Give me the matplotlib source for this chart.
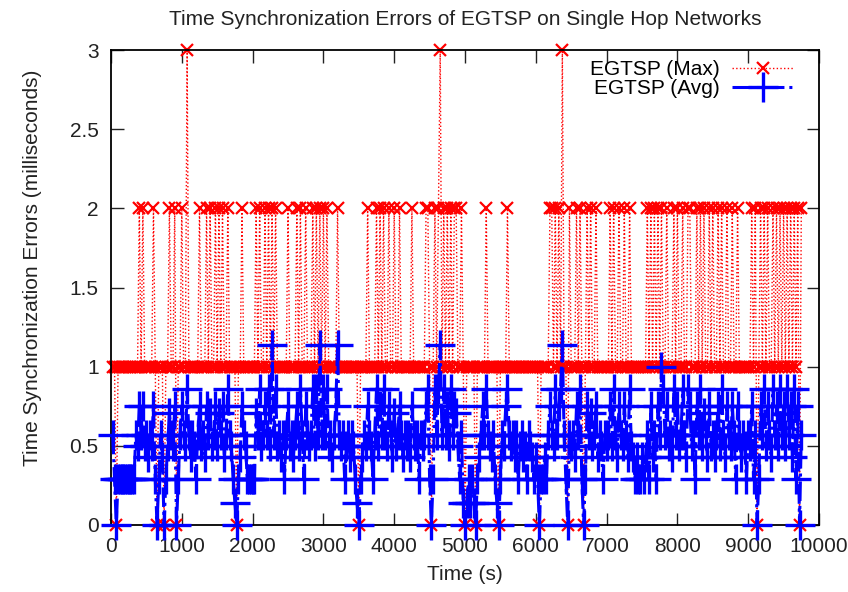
import numpy as np
import matplotlib
matplotlib.use("Agg")
import matplotlib.pyplot as plt
from matplotlib.ticker import FormatStrFormatter

plt.rcParams['font.family'] = ['Liberation Sans', 'DejaVu Sans']

# sampling grid of the run (seconds), one sample every 25 s
times = np.arange(25, 9751, 25)

# maximum error per sample (ms), one row per 1000 s
max_err = [
    1, 1, 0, 1, 1, 1, 1, 1, 1, 1, 1, 1, 1, 1, 1, 2, 1, 2, 1, 1,
    1, 1, 1, 2, 1, 0, 1, 1, 1, 0, 1, 1, 2, 1, 1, 2, 0, 1, 1, 2,
    1, 1, 3, 1, 1, 1, 1, 1, 1, 2, 1, 1, 1, 2, 1, 2, 1, 1, 2, 1,
    2, 1, 2, 1, 1, 2, 1, 1, 1, 1, 0, 1, 1, 2, 1, 1, 1, 1, 1, 1,
    1, 2, 1, 2, 1, 1, 2, 1, 2, 1, 2, 1, 2, 1, 1, 1, 1, 1, 1, 2,
    1, 1, 1, 1, 2, 1, 2, 1, 1, 2, 1, 1, 1, 2, 1, 2, 1, 2, 1, 2,
    1, 2, 1, 1, 1, 1, 1, 2, 1, 1, 1, 1, 1, 1, 1, 1, 1, 1, 1, 0,
    1, 1, 1, 1, 2, 1, 1, 1, 1, 2, 1, 2, 1, 2, 1, 1, 2, 1, 1, 2,
    1, 1, 2, 1, 1, 1, 1, 1, 1, 2, 1, 1, 1, 1, 1, 1, 1, 2, 2, 1,
    0, 1, 2, 1, 2, 3, 1, 2, 1, 2, 1, 2, 1, 2, 2, 1, 1, 2, 1, 0,
    1, 1, 1, 1, 1, 0, 1, 1, 1, 1, 1, 2, 1, 1, 1, 1, 1, 1, 0, 1,
    1, 1, 1, 2, 1, 1, 1, 1, 1, 1, 1, 1, 1, 1, 1, 1, 1, 1, 1, 1,
    1, 0, 1, 1, 1, 1, 1, 2, 2, 1, 2, 1, 2, 1, 3, 1, 1, 0, 2, 1,
    1, 1, 2, 1, 2, 1, 0, 1, 2, 1, 2, 1, 1, 2, 1, 1, 1, 1, 1, 1,
    1, 2, 1, 2, 1, 1, 2, 1, 1, 2, 1, 1, 2, 1, 1, 1, 1, 1, 1, 1,
    1, 1, 2, 1, 2, 1, 2, 1, 2, 1, 2, 1, 1, 2, 1, 1, 1, 2, 1, 2,
    1, 1, 2, 1, 1, 2, 2, 1, 1, 1, 2, 1, 2, 1, 2, 1, 1, 2, 1, 2,
    1, 1, 2, 1, 2, 1, 1, 2, 1, 1, 2, 1, 1, 2, 1, 1, 1, 1, 1, 1,
    1, 2, 1, 2, 0, 1, 2, 1, 2, 1, 2, 1, 1, 2, 1, 2, 1, 2, 1, 2,
    1, 2, 1, 2, 1, 2, 1, 2, 0, 2,
]

# average error per sample (ms), one row per 1000 s
avg_err = [
    0.57, 0.29, 0, 0.29, 0.29, 0.29, 0.29, 0.29, 0.29, 0.29,
    0.29, 0.29, 0.29, 0.57, 0.5, 0.75, 0.57, 0.75, 0.5, 0.57,
    0.43, 0.57, 0.5, 0.75, 0.29, 0, 0.29, 0.57, 0.43, 0,
    0.29, 0.5, 0.71, 0.57, 0.5, 0.75, 0, 0.29, 0.57, 0.75,

    0.57, 0.5, 0.86, 0.57, 0.43, 0.57, 0.5, 0.29, 0.57, 0.75,
    0.5, 0.57, 0.43, 0.75, 0.57, 0.71, 0.5, 0.57, 0.75, 0.5,
    0.71, 0.57, 0.75, 0.43, 0.57, 0.86, 0.57, 0.5, 0.29, 0.14,
    0, 0.29, 0.43, 0.75, 0.57, 0.5, 0.29, 0.29, 0.29, 0.29,

    0.29, 0.71, 0.57, 0.86, 0.5, 0.57, 0.75, 0.57, 0.86, 0.5,
    1.14, 0.57, 0.86, 0.5, 0.57, 0.43, 0.57, 0.29, 0.57, 0.75,
    0.5, 0.57, 0.43, 0.57, 0.75, 0.5, 0.86, 0.57, 0.29, 0.75,
    0.57, 0.5, 0.57, 0.86, 0.5, 0.86, 0.57, 1.14, 0.57, 0.86,

    0.57, 0.86, 0.5, 0.57, 0.43, 0.57, 0.75, 1.14, 0.57, 0.5,
    0.57, 0.29, 0.5, 0.57, 0.43, 0.57, 0.5, 0.29, 0.14, 0,
    0.29, 0.43, 0.57, 0.5, 0.75, 0.57, 0.5, 0.29, 0.57, 0.86,
    0.5, 0.75, 0.57, 0.86, 0.57, 0.5, 0.75, 0.57, 0.43, 0.71,

    0.5, 0.57, 0.75, 0.57, 0.43, 0.57, 0.5, 0.57, 0.43, 0.75,
    0.57, 0.5, 0.57, 0.29, 0.57, 0.5, 0.57, 0.75, 0.86, 0.29,
    0, 0.29, 0.86, 0.57, 0.86, 1.14, 0.57, 0.86, 0.57, 0.75,
    0.5, 0.86, 0.57, 0.75, 0.71, 0.5, 0.29, 0.57, 0.14, 0,

    0.14, 0.29, 0.14, 0.29, 0.14, 0, 0.29, 0.43, 0.57, 0.75,
    0.57, 0.86, 0.57, 0.5, 0.43, 0.57, 0.29, 0.14, 0, 0.29,
    0.57, 0.5, 0.75, 0.86, 0.57, 0.5, 0.57, 0.43, 0.57, 0.29,
    0.5, 0.57, 0.43, 0.5, 0.29, 0.57, 0.5, 0.43, 0.29, 0.43,

    0.29, 0, 0.29, 0.29, 0.43, 0.29, 0.57, 0.75, 0.57, 0.5,
    0.86, 0.57, 0.75, 0.86, 1.14, 0.57, 0.29, 0, 0.57, 0.5,
    0.57, 0.43, 0.75, 0.57, 0.86, 0.29, 0, 0.29, 0.75, 0.57,
    0.71, 0.5, 0.57, 0.75, 0.43, 0.57, 0.5, 0.29, 0.57, 0.5,

    0.57, 0.75, 0.5, 0.86, 0.57, 0.43, 0.75, 0.57, 0.5, 0.75,
    0.57, 0.43, 0.86, 0.5, 0.43, 0.29, 0.43, 0.29, 0.29, 0.43,
    0.29, 0.43, 0.57, 0.29, 0.75, 0.43, 0.57, 0.29, 0.75, 0.57,
    1.0, 0.86, 0.57, 0.75, 0.5, 0.57, 0.43, 0.86, 0.57, 0.75,

    0.5, 0.57, 0.86, 0.57, 0.43, 0.86, 0.75, 0.5, 0.57, 0.29,
    0.75, 0.57, 0.86, 0.5, 0.71, 0.57, 0.43, 0.75, 0.5, 0.57,
    0.43, 0.57, 0.75, 0.5, 0.86, 0.57, 0.43, 0.75, 0.57, 0.5,
    0.75, 0.57, 0.29, 0.75, 0.57, 0.43, 0.57, 0.5, 0.29, 0.57,

    0.5, 0.75, 0.29, 0.57, 0, 0.29, 0.75, 0.57, 0.86, 0.5,
    0.75, 0.57, 0.43, 0.86, 0.57, 0.75, 0.5, 0.86, 0.57, 0.75,
    0.5, 0.86, 0.57, 0.75, 0.43, 0.86, 0.29, 0.75, 0, 0.57,
]

fig = plt.figure(figsize=(8.48, 5.92), dpi=100)
ax = fig.add_axes([111 / 848, 1 - 525 / 592, 708 / 848, 475 / 592])

ax.plot(times, max_err, color='red', linestyle=':', linewidth=1.0,
        marker='x', markersize=8.5, markeredgewidth=1.6,
        label='EGTSP (Max)', clip_on=False, zorder=2)
ax.plot(times, avg_err, color='blue', linestyle='-.', linewidth=2.2,
        marker='+', markersize=21, markeredgewidth=2.4,
        label='EGTSP (Avg)', clip_on=False, zorder=3)

ax.set_xlim(0, 10000)
ax.set_ylim(0, 3)
ax.set_xticks(np.arange(0, 10001, 1000))
ax.set_yticks(np.arange(0, 3.01, 0.5))
ax.yaxis.set_major_formatter(FormatStrFormatter('%g'))
ax.tick_params(direction='in', top=True, right=True, length=9, width=1,
               labelsize=15, pad=9, colors='#222222')
for s in ax.spines.values():
    s.set_linewidth(1.3)

ax.set_title('Time Synchronization Errors of EGTSP on Single Hop Networks',
             fontsize=15, pad=18, color='#222222')
ax.set_xlabel('Time (s)', fontsize=15, color='#222222')
ax.set_ylabel('Time Synchronization Errors (milliseconds)', fontsize=15,
              color='#222222')
ax.xaxis.set_label_coords(0.5, -0.085)
ax.yaxis.set_label_coords(-0.098, 0.541)

leg = ax.legend(loc='upper right', bbox_to_anchor=(0.963, 0.978),
                frameon=False, markerfirst=False, fontsize=15,
                handlelength=2.9, handletextpad=0.6, labelspacing=0.0,
                borderaxespad=0, borderpad=0)

fig.savefig('out.png', dpi=100)
